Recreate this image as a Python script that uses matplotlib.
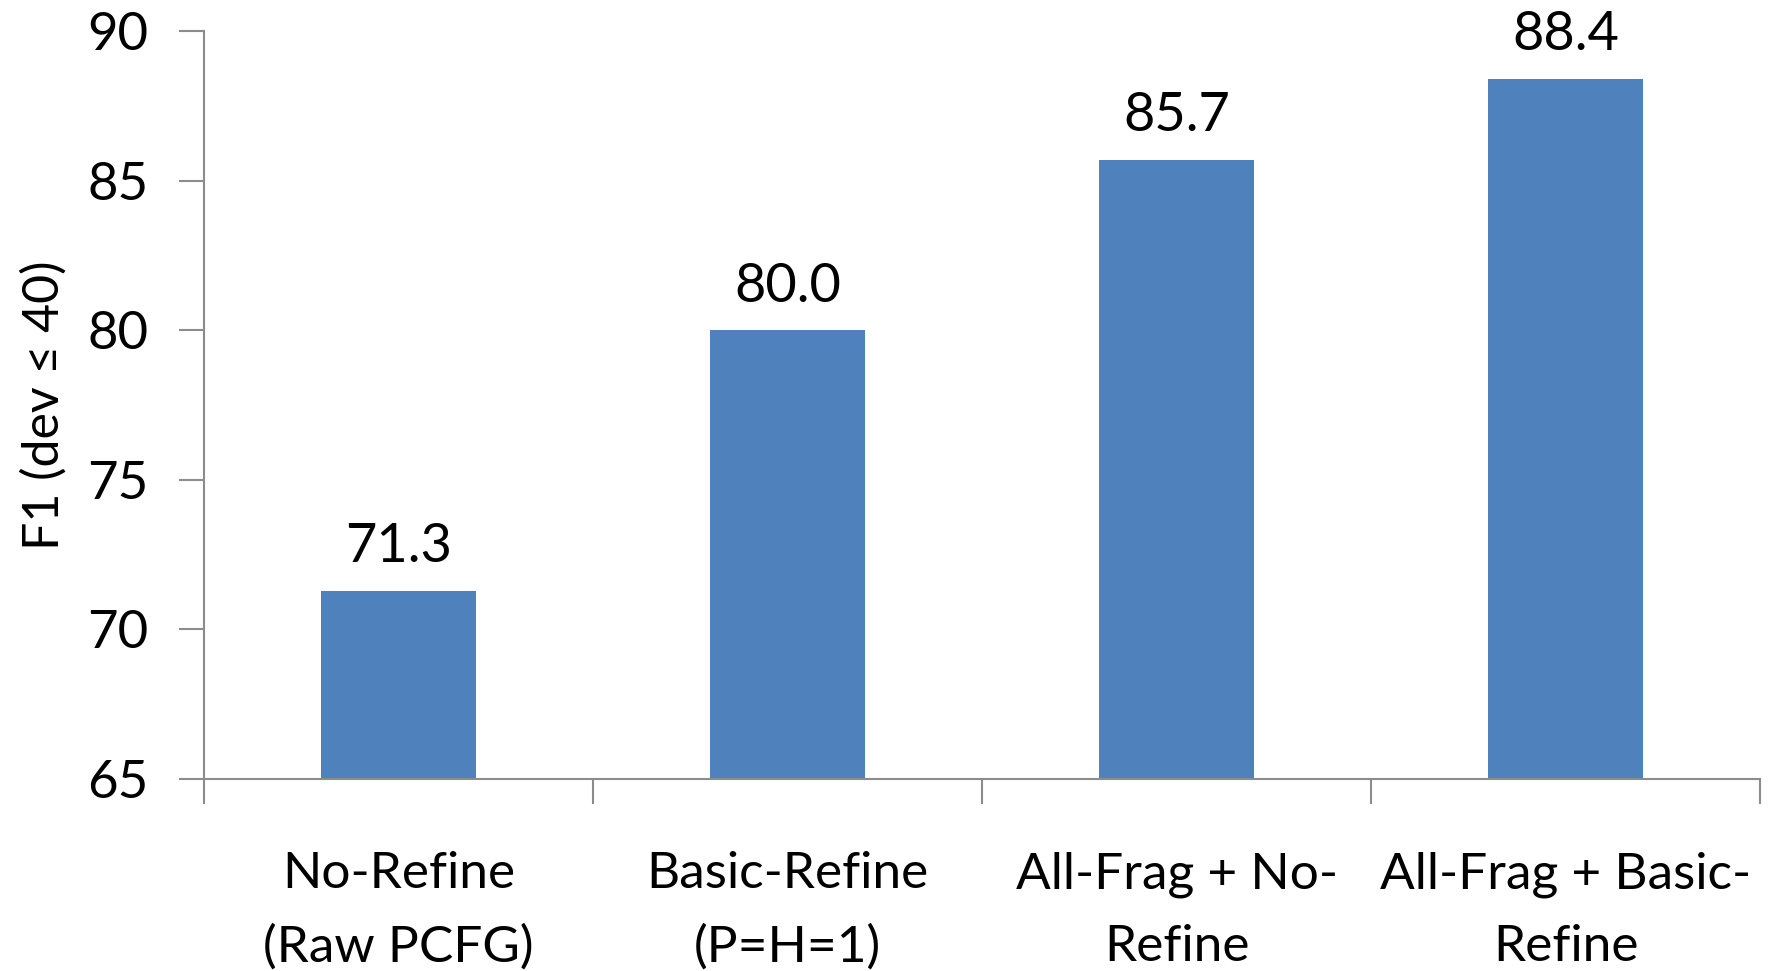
import matplotlib
matplotlib.use("Agg")
import matplotlib.pyplot as plt

plt.rcParams['font.family'] = ['Lato', 'DejaVu Sans']

categories = ["No-Refine\n(Raw PCFG)", "Basic-Refine\n(P=H=1)",
              "All-Frag + No-\nRefine", "All-Frag + Basic-\nRefine"]
f1_scores = [71.3, 80.0, 85.7, 88.4]
y_ticks = [65, 70, 75, 80, 85, 90]

bar_color = '#4F81BD'
axis_color = '#8C8C8C'

fig = plt.figure(figsize=(17.71, 9.71), dpi=100)
ax = fig.add_axes([0.1152, 0.1977, 0.8786, 0.7704])

x = list(range(len(categories)))
bars = ax.bar(x, f1_scores, width=0.40, color=bar_color, zorder=2)

for rect, val in zip(bars, f1_scores):
    ax.annotate(f"{val:.1f}", (rect.get_x() + rect.get_width() / 2, val),
                xytext=(0, 14), textcoords='offset points',
                ha='center', va='bottom', fontsize=39)

ax.set_xlim(-0.5, len(categories) - 0.5)
ax.set_ylim(65, 90)
ax.set_yticks(y_ticks)
ax.set_yticklabels([str(t) for t in y_ticks], fontsize=38)

# boundary ticks between categories, labels sit on minor ticks at bar centres
ax.set_xticks([i - 0.5 for i in range(len(categories) + 1)])
ax.set_xticklabels([])
ax.set_xticks(x, minor=True)
ax.set_xticklabels(categories, minor=True, fontsize=37, linespacing=1.7)
ax.tick_params(axis='x', which='minor', length=0, pad=52)
ax.tick_params(axis='x', which='major', length=18, width=1.5, color=axis_color)
ax.tick_params(axis='y', length=18, width=1.5, color=axis_color, pad=22)

for side in ('top', 'right'):
    ax.spines[side].set_visible(False)
for side in ('left', 'bottom'):
    ax.spines[side].set_color(axis_color)
    ax.spines[side].set_linewidth(1.5)

ax.set_ylabel("F1 (dev \u2264 40)", fontsize=36, labelpad=14)

fig.savefig("out.png", dpi=100)
